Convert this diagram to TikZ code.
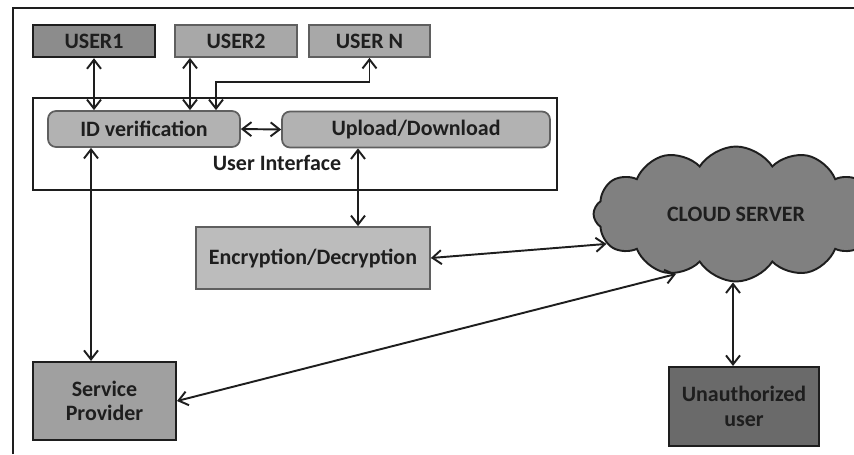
\documentclass[tikz,border=0pt]{standalone}
\usepackage{fontspec}
\setmainfont{Carlito}
\usepackage{tikz}
\usetikzlibrary{
  arrows.meta,
  positioning,
  calc,
  shapes.symbols
}
\definecolor{InkDark}{RGB}{30,30,30}
\definecolor{EdgeGray}{RGB}{95,95,95}
\definecolor{UserDark}{RGB}{140,140,140}
\definecolor{UserLight}{RGB}{168,168,168}
\definecolor{IfaceGray}{RGB}{178,178,178}
\definecolor{CryptGray}{RGB}{188,188,188}
\definecolor{ProviderGray}{RGB}{160,160,160}
\definecolor{CloudGray}{RGB}{128,128,128}
\definecolor{IntruderGray}{RGB}{106,106,106}
\tikzset{
  boxtext/.style={font=\bfseries\fontsize{12.5}{14}\selectfont,text=InkDark,align=center},
  usernode/.style={boxtext,draw=EdgeGray,line width=1pt,fill=UserLight,minimum height=6.4mm,minimum width=2.44cm},
  firstuser/.style={usernode,draw=InkDark,line width=1.4pt,fill=UserDark},
  ifacenode/.style={boxtext,draw=EdgeGray,line width=1pt,fill=IfaceGray,rounded corners=1.6mm,minimum height=7.2mm},
  ifaceframe/.style={draw=InkDark,line width=1.3pt,minimum width=10.48cm,minimum height=1.84cm},
  cryptnode/.style={boxtext,draw=EdgeGray,line width=1pt,fill=CryptGray,minimum height=1.24cm,minimum width=4.68cm},
  providernode/.style={boxtext,draw=InkDark,line width=1.2pt,fill=ProviderGray,minimum height=1.56cm,minimum width=2.86cm},
  intrudernode/.style={boxtext,draw=InkDark,line width=1.2pt,fill=IntruderGray,minimum height=1.58cm,minimum width=3cm},
  cloudnode/.style={boxtext,cloud,cloud puffs=12,cloud puff arc=115,aspect=2.1,draw=InkDark,line width=1.1pt,fill=CloudGray,minimum width=5.7cm,minimum height=2.7cm},
  biarrow/.style={{Straight Barb[length=1.8mm,width=2.8mm]}-{Straight Barb[length=1.8mm,width=2.8mm]},line width=1.1pt,draw=InkDark},
  frameline/.style={draw=InkDark,line width=1.3pt}
}
\begin{document}
\begin{tikzpicture}[x=0.02cm,y=-0.02cm]
\useasboundingbox (0,0) rectangle (854,454);
\draw[frameline] (13,454) |- (854,8);

\node[firstuser] (user1) at (94,41) {USER1};
\node[usernode] (user2) at (236,41) {USER2};
\node[usernode, minimum width=2.42cm] (usern) at (369.5,41) {USER N};

\node[ifaceframe] (ui) at (295,144) {};
\node[ifacenode, minimum width=3.84cm] (idv) at (144,129) {ID verification};
\node[ifacenode, minimum width=5.36cm] (updown) at (416,129.5) {Upload/Download};
\node[boxtext] (uilabel) at (277,163) {User Interface};

\node[cryptnode] (enc) at (313,258) {Encryption/Decryption};
\node[cloudnode] (cloud) at (736,214) {CLOUD SERVER};
\node[providernode] (sp) at (104.5,401) {Service\\Provider};
\node[intrudernode] (unauth) at (744,406.5) {Unauthorized\\user};

\draw[biarrow] (user1.south) -- (user1.south |- idv.north);
\draw[biarrow] ($(user2.south)+(-46,0)$) coordinate (u2) -- (u2 |- idv.north);
\draw[biarrow] (usern.south) -- ++(0,24) -| ($(idv.north)+(72,0)$);
\draw[biarrow] (idv.east) -- (updown.west);
\draw[biarrow] ($(updown.south)+(-58,0)$) coordinate (ud) -- (ud |- enc.north);
\draw[biarrow] ($(idv.south)+(-53,0)$) coordinate (iv) -- (iv |- sp.north);
\draw[biarrow] (enc.east) -- (cloud.193);
\draw[biarrow] (sp.east) -- (cloud.225);
\draw[biarrow] ($(cloud.south)+(-3,0)$) coordinate (cs) -- (cs |- unauth.north);
\end{tikzpicture}
\end{document}
